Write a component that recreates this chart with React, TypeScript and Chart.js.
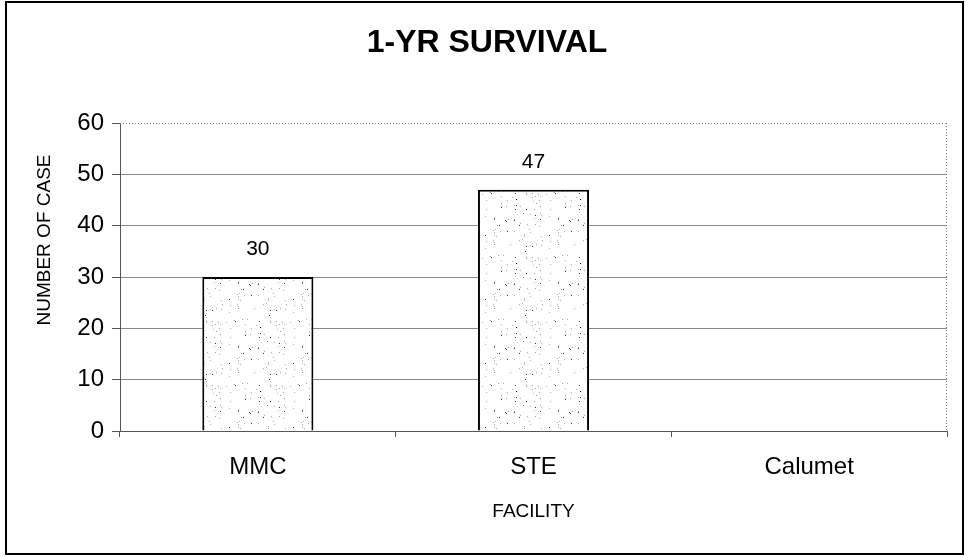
import React, { useEffect, useRef } from "react";
import { Chart, registerables } from "chart.js";

Chart.register(...registerables);

const categories = ["MMC", "STE", "Calumet"];
const values = [30, 47, 0];
const yTicks = [0, 10, 20, 30, 40, 50, 60];
const chartTitle = "1-YR SURVIVAL";
const xTitle = "FACILITY";
const yTitle = "NUMBER OF CASE";

const FONT = '"Liberation Sans", Arial, sans-serif';

function makeStipple(ctx: CanvasRenderingContext2D) {
  const size = 64;
  const c = document.createElement("canvas");
  c.width = size;
  c.height = size;
  const g = c.getContext("2d") as CanvasRenderingContext2D;
  g.fillStyle = "#ffffff";
  g.fillRect(0, 0, size, size);
  let s = 987654;
  const next = () => {
    s = (s * 1103515245 + 12345) & 0x7fffffff;
    return s / 0x7fffffff;
  };
  for (let i = 0; i < 85; i++) {
    const x = Math.floor(next() * size);
    const y = Math.floor(next() * size);
    g.fillStyle = next() < 0.2 ? "#333333" : "#a8a8a8";
    g.fillRect(x, y, 1, 1);
  }
  return ctx.createPattern(c, "repeat");
}

const decor = {
  id: "decor",
  afterDraw(chart: any) {
    const { ctx, chartArea: a, scales } = chart;
    const xs = scales.x;
    const ys = scales.y;
    ctx.save();
    // outer frame
    ctx.strokeStyle = "#000";
    ctx.lineWidth = 2;
    ctx.strokeRect(6, 2, 957, 552);
    // plot area dotted top/right
    ctx.strokeStyle = "#808080";
    ctx.lineWidth = 1;
    ctx.setLineDash([1, 2]);
    ctx.beginPath();
    ctx.moveTo(a.left, a.top + 0.5);
    ctx.lineTo(a.right, a.top + 0.5);
    ctx.moveTo(a.right - 0.5, a.top);
    ctx.lineTo(a.right - 0.5, a.bottom);
    ctx.stroke();
    ctx.setLineDash([]);

    ctx.fillStyle = "#000";
    ctx.textAlign = "center";
    ctx.textBaseline = "middle";
    ctx.font = `bold 32px ${FONT}`;
    ctx.fillText(chartTitle, 487, 43);

    ctx.font = `24px ${FONT}`;
    ctx.textAlign = "right";
    yTicks.forEach((v) => ctx.fillText(String(v), a.left - 16, ys.getPixelForValue(v)));

    ctx.textAlign = "center";
    categories.forEach((c, i) => ctx.fillText(c, xs.getPixelForValue(i), a.bottom + 36));

    ctx.font = `19px ${FONT}`;
    ctx.fillText(xTitle, (a.left + a.right) / 2, a.bottom + 81);

    ctx.save();
    ctx.translate(45, 240);
    ctx.rotate(-Math.PI / 2);
    ctx.fillText(yTitle, 0, 0);
    ctx.restore();

    ctx.font = `21px ${FONT}`;
    const meta = chart.getDatasetMeta(0);
    meta.data.forEach((bar: any, i: number) => {
      if (values[i] > 0) ctx.fillText(String(values[i]), bar.x, bar.y - 28);
    });
    ctx.restore();
  },
};

export default function App() {
  const ref = useRef<HTMLCanvasElement | null>(null);
  useEffect(() => {
    const canvas = ref.current;
    if (!canvas) return;
    const ctx2 = canvas.getContext("2d") as CanvasRenderingContext2D;
    const pattern = makeStipple(ctx2);
    const chart = new Chart(canvas, {
      type: "bar",
      data: {
        labels: categories,
        datasets: [
          {
            data: values,
            backgroundColor: pattern as any,
            borderColor: "#000",
            borderWidth: 2,
            barPercentage: 0.403,
            categoryPercentage: 1,
          },
        ],
      },
      options: {
        responsive: false,
        animation: false,
        devicePixelRatio: 1,
        layout: { padding: { left: 0, right: 19, top: 123, bottom: 0 } },
        plugins: { legend: { display: false }, tooltip: { enabled: false }, title: { display: false } },
        scales: {
          x: {
            offset: true,
            grid: { offset: true, drawOnChartArea: false, drawTicks: true, tickLength: 6, color: "#555" },
            border: { display: true, color: "#555", width: 1 },
            ticks: { display: false },
            afterFit: (s: any) => {
              s.height = 126;
            },
          },
          y: {
            min: 0,
            max: 60,
            ticks: { stepSize: 10, display: false },
            grid: {
              color: (c: any) => (c.tick && c.tick.value === 60 ? "rgba(0,0,0,0)" : "#888"),
              tickColor: "#555",
              tickLength: 8,
              drawTicks: true,
            },
            border: { display: true, color: "#555", width: 1 },
            afterFit: (s: any) => {
              s.width = 120;
            },
          },
        },
      },
      plugins: [decor],
    });
    return () => chart.destroy();
  }, []);
  return (
    <div style={{ position: "absolute", left: 0, top: 0, width: 966, height: 557, background: "#fff" }}>
      <canvas ref={ref} width={966} height={557} />
    </div>
  );
}
